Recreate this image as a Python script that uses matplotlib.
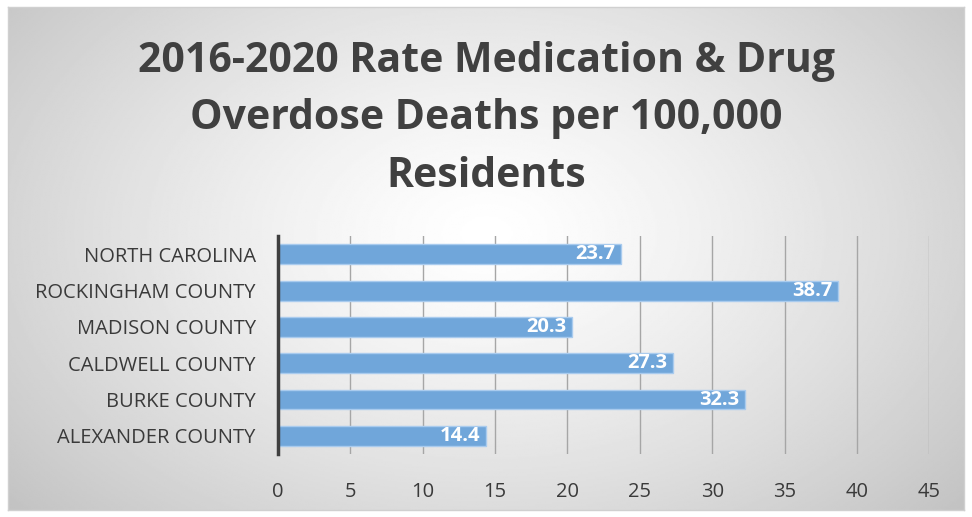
import matplotlib
matplotlib.use('Agg')
import matplotlib.pyplot as plt
import numpy as np

# Данные графика
categories = ['NORTH CAROLINA', 'ROCKINGHAM COUNTY', 'MADISON COUNTY',
              'CALDWELL COUNTY', 'BURKE COUNTY', 'ALEXANDER COUNTY']
rates = [23.7, 38.7, 20.3, 27.3, 32.3, 14.4]
x_ticks = [0, 5, 10, 15, 20, 25, 30, 35, 40, 45]
title = '2016-2020 Rate Medication & Drug\nOverdose Deaths per 100,000\nResidents'

plt.rcParams['font.family'] = ['Open Sans', 'DejaVu Sans']

fig = plt.figure(figsize=(9.72, 5.17), dpi=100)

# Фон с радиальным градиентом
bg = fig.add_axes([0.008, 0.014, 0.984, 0.972])
yy, xx = np.mgrid[0:1:300j, 0:1:560j]
r = np.sqrt(((xx - 0.5) / 0.75) ** 2 + ((yy - 0.45) / 0.95) ** 2)
shade = 1.0 - 0.28 * np.clip(r, 0, 1) ** 1.3
bg.imshow(shade, cmap='gray', vmin=0, vmax=1, aspect='auto',
          extent=(0, 1, 0, 1), origin='upper')
bg.set_xticks([])
bg.set_yticks([])
for s in bg.spines.values():
    s.set_color('#d0d0d0')
    s.set_linewidth(1)

ax = fig.add_axes([0.286, 0.122, 0.670, 0.421])
ax.patch.set_alpha(0)
y = np.arange(len(categories))
bars = ax.barh(y, rates, height=0.55, color='#70a6da',
               edgecolor='#a9cbee', linewidth=1, zorder=3)
ax.set_ylim(len(categories) - 0.5, -0.5)
ax.set_xlim(0, 45)
ax.set_yticks(y)
ax.set_yticklabels(categories, fontsize=14.5, color='#3a3a3a')
ax.set_xticks(x_ticks)
ax.set_xticklabels([str(t) for t in x_ticks], fontsize=14.5, color='#3a3a3a')
ax.tick_params(axis='x', length=0, pad=20)
ax.tick_params(axis='y', length=0, pad=16)
ax.grid(axis='x', color='#a6a6a6', linewidth=1, zorder=0)
for side in ['top', 'right', 'bottom']:
    ax.spines[side].set_visible(False)
ax.spines['left'].set_color('#3f3f3f')
ax.spines['left'].set_linewidth(2.5)
ax.spines['left'].set_zorder(4)

for b, v in zip(bars, rates):
    ax.text(v - 0.4, b.get_y() + b.get_height() / 2, f'{v}',
            ha='right', va='center', color='white', fontsize=14.5,
            fontweight='bold', zorder=5)

fig.text(0.5, 0.77, title, ha='center', va='center', fontsize=29.5,
         fontweight='bold', color='#404040', linespacing=1.52)

fig.savefig('out.png', dpi=100)
